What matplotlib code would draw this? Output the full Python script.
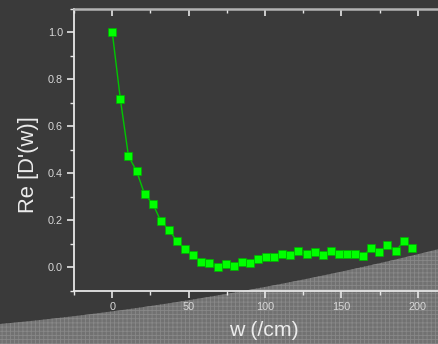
import numpy as np
import matplotlib
matplotlib.use("Agg")
import matplotlib.pyplot as plt
from matplotlib.patches import Polygon
from matplotlib.ticker import MultipleLocator

# ---- data ----
w_values = [0, 5.3, 10.6, 15.9, 21.2, 26.5, 31.8, 37.1, 42.4, 47.7,
            53.0, 58.3, 63.6, 68.9, 74.2, 79.5, 84.8, 90.1, 95.4, 100.7,
            106.0, 111.3, 116.6, 121.9, 127.2, 132.5, 137.8, 143.1, 148.4, 153.7,
            159.0, 164.3, 169.6, 174.9, 180.2, 185.5, 190.8, 196.1]
re_d = [1.0, 0.715, 0.473, 0.41, 0.31, 0.271, 0.196, 0.16, 0.11, 0.077,
        0.050, 0.023, 0.018, 0.0, 0.013, 0.006, 0.024, 0.020, 0.034, 0.044,
        0.044, 0.058, 0.050, 0.067, 0.055, 0.063, 0.054, 0.067, 0.057, 0.057,
        0.058, 0.047, 0.084, 0.063, 0.095, 0.067, 0.111, 0.082]
x_ticks = [0, 50, 100, 150, 200]
y_ticks = [0.0, 0.2, 0.4, 0.6, 0.8, 1.0]
x_label = "w (/cm)"
y_label = "Re [D'(w)]"

W, H = 439, 344
plt.rcParams['font.family'] = ['Liberation Sans', 'DejaVu Sans']
plt.rcParams['hatch.linewidth'] = 0.6

bg = '#3a3a3a'
fig = plt.figure(figsize=(W / 100, H / 100), dpi=100, facecolor=bg)

# stippled lower region (figure coordinates)
xs = np.linspace(0, W, 60)
ys = 324 - 0.0926 * xs - 1.782e-4 * xs ** 2
verts = [(x / W, 1 - y / H) for x, y in zip(xs, ys)] + [(1, 0), (0, 0)]
poly = Polygon(verts, closed=True, transform=fig.transFigure,
               facecolor='#717171', edgecolor='#888888', hatch='++++',
               linewidth=0, zorder=-5)
fig.patches.append(poly)

# axes placement (pixels)
x0_px, px_per_unit = 112.3, 1.527
xlim = (-25, 225)
left_px = x0_px + xlim[0] * px_per_unit
width_px = (xlim[1] - xlim[0]) * px_per_unit
top_px, bottom_px = 9, 290.7
ax = fig.add_axes([left_px / W, 1 - bottom_px / H, width_px / W, (bottom_px - top_px) / H])
ax.set_facecolor('none')
ax.set_xlim(*xlim)
ax.set_ylim(-0.1, 1.1)

ax.plot(w_values, re_d, '-', color='#00c800', lw=1.0, zorder=3)
ax.plot(w_values, re_d, 's', color='#00ff00', markersize=5.2,
        markeredgecolor='#00b000', markeredgewidth=0.5, zorder=4)

ax.set_xticks(x_ticks)
ax.set_yticks(y_ticks)
ax.set_yticklabels([f"{v:.1f}" for v in y_ticks])
ax.xaxis.set_minor_locator(MultipleLocator(25))
ax.yaxis.set_minor_locator(MultipleLocator(0.1))

spine_c = '#e6e6e6'
for s in ['left', 'bottom']:
    ax.spines[s].set_color(spine_c)
    ax.spines[s].set_linewidth(1.3)
ax.spines['top'].set_color('#b4b4b4')
ax.spines['top'].set_linewidth(1.8)
ax.spines['right'].set_visible(False)

ax.tick_params(axis='both', which='major', direction='out', length=5, width=1.2,
               color=spine_c, labelcolor='#d8d8d8', labelsize=7.8, pad=3)
ax.tick_params(axis='both', which='minor', direction='out', length=3, width=1.0,
               color=spine_c)
ax.tick_params(axis='x', which='both', top=True)
# top ticks point inward
for t in ax.xaxis.get_major_ticks():
    t.tick2line.set_marker(matplotlib.lines.TICKDOWN)
    t.tick2line.set_markersize(5)
for t in ax.xaxis.get_minor_ticks():
    t.tick2line.set_marker(matplotlib.lines.TICKDOWN)
    t.tick2line.set_markersize(3)

fig.text(264 / W, 1 - 331 / H, x_label, ha='center', va='center',
         fontsize=15.3, color='#ececec')
fig.text(29 / W, 1 - 165 / H, y_label, ha='center', va='center', rotation=90,
         fontsize=15.8, color='#ececec')

fig.savefig('out.png', dpi=100, facecolor=bg)
